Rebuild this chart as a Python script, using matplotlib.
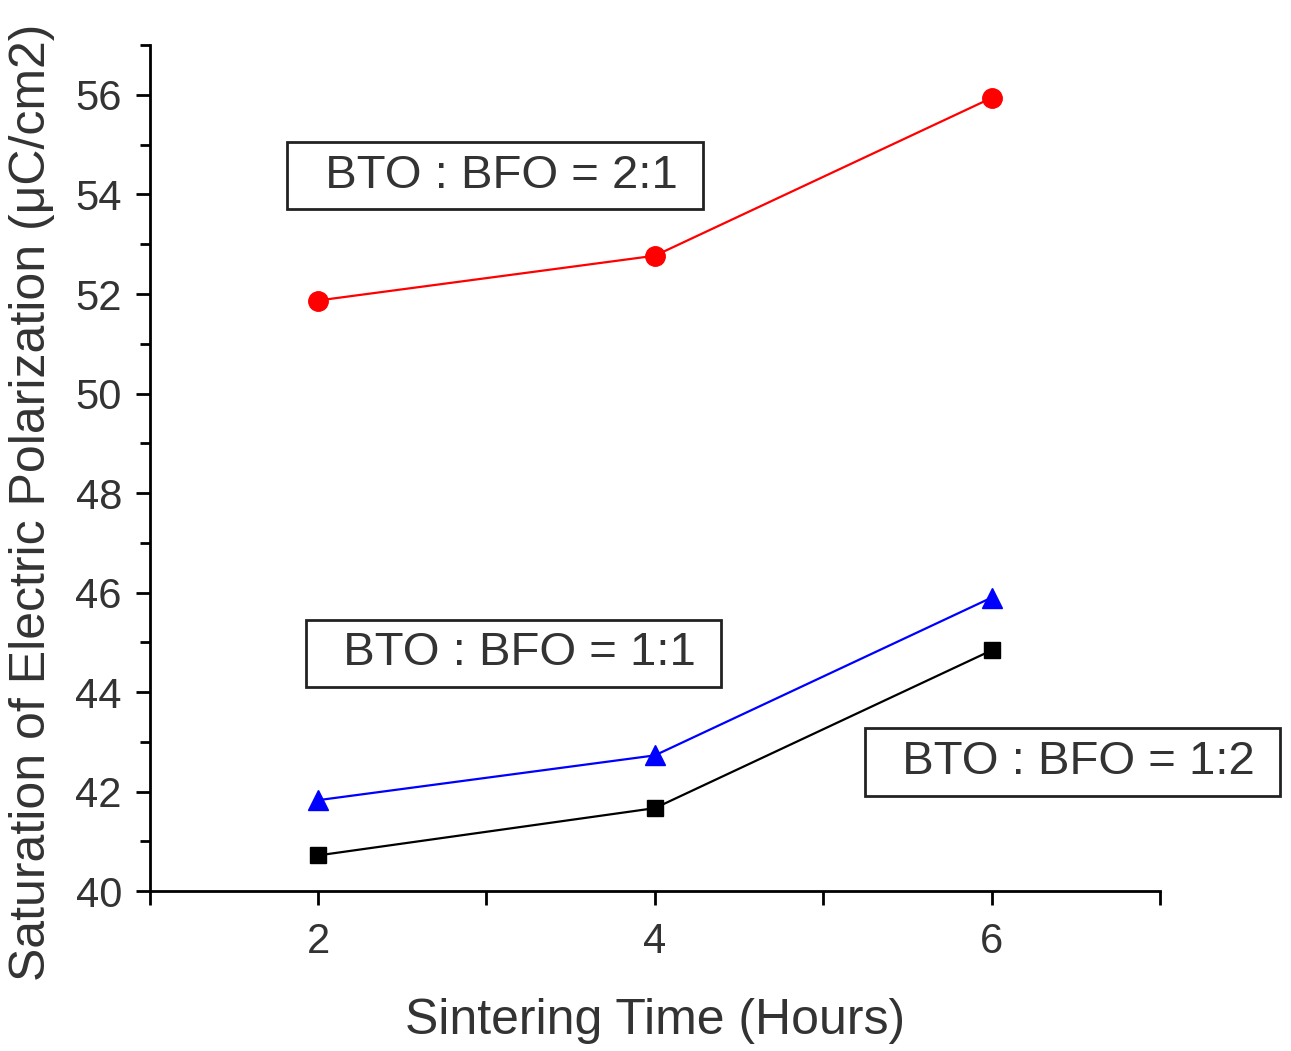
import matplotlib.pyplot as plt
from matplotlib.ticker import MultipleLocator

plt.rcParams['font.family'] = ['Liberation Sans', 'DejaVu Sans']

# Sintering time (hours)
hours = [2, 4, 6]
# Saturation polarization (uC/cm2)
bto_bfo_2_1 = [51.87, 52.77, 55.94]
bto_bfo_1_1 = [41.83, 42.73, 45.90]
bto_bfo_1_2 = [40.72, 41.67, 44.84]

text_col = '#333333'

fig = plt.figure(figsize=(12.91, 10.51), dpi=100)
ax = fig.add_axes([0.116, 0.152, 0.7825, 0.805])

ax.plot(hours, bto_bfo_2_1, color='#ff0000', lw=1.6, marker='o', ms=14)
ax.plot(hours, bto_bfo_1_1, color='#0000ff', lw=1.6, marker='^', ms=15)
ax.plot(hours, bto_bfo_1_2, color='black', lw=1.6, marker='s', ms=12)

ax.set_xlim(1, 7)
ax.set_ylim(40, 57)
ax.xaxis.set_major_locator(MultipleLocator(2))
ax.xaxis.set_minor_locator(MultipleLocator(1))
ax.yaxis.set_major_locator(MultipleLocator(2))
ax.yaxis.set_minor_locator(MultipleLocator(1))

for s in ['top', 'right']:
    ax.spines[s].set_visible(False)
for s in ['left', 'bottom']:
    ax.spines[s].set_linewidth(2)

ax.tick_params(which='major', direction='out', length=10, width=2,
               labelsize=30, labelcolor=text_col, pad=10)
ax.tick_params(which='minor', direction='out', length=7, width=2)
ax.tick_params(axis='x', which='both', length=10)
ax.tick_params(axis='x', pad=12)

ax.set_xlabel('Sintering Time (Hours)', fontsize=36, color=text_col, labelpad=26)
ax.set_ylabel('Saturation of Electric Polarization (μC/cm2)', fontsize=36,
              color=text_col)
ax.yaxis.set_label_coords(-0.094, 0.46)

box = dict(boxstyle='square,pad=0.25', fc='white', ec='#222222', lw=2)
labels = [('  BTO : BFO = 2:1 ', 3.05, 54.38),
          ('  BTO : BFO = 1:1 ', 3.16, 44.78),
          ('  BTO : BFO = 1:2 ', 6.48, 42.60)]
for txt, x, y in labels:
    ax.text(x, y, txt, fontsize=34, color=text_col, ha='center', va='center',
            bbox=box, clip_on=False)

fig.savefig('out.png', dpi=100)
